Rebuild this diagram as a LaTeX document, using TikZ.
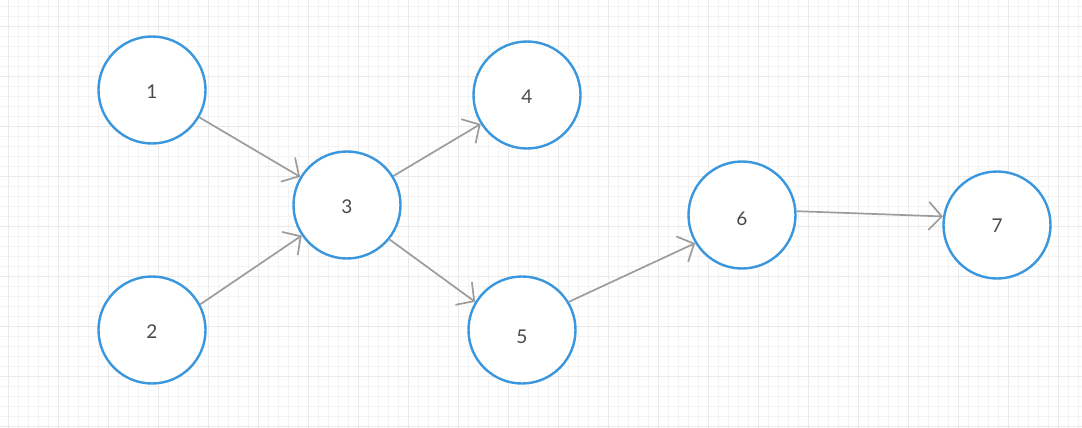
\documentclass[tikz,border=0pt]{standalone}
\usepackage{fontspec}
\setmainfont{Lato}
\usetikzlibrary{arrows.meta}
\definecolor{nodeblue}{HTML}{3A97DD}
\definecolor{edgegray}{HTML}{9C9C9C}
\definecolor{textgray}{HTML}{4A4A4A}
\definecolor{gridminor}{HTML}{F3F3F3}
\definecolor{gridmajor}{HTML}{EAEAEA}
\newcommand{\lbl}[2]{\raisebox{-#1pt}[\height][\depth]{#2}}
\begin{document}
\begin{tikzpicture}[x=1pt,y=-1pt,
  vtx/.style={circle,draw=nodeblue,line width=2.4pt,fill=white,minimum size=107pt,inner sep=0pt,
    text=textgray,font=\fontsize{19}{22}\selectfont},
  edge/.style={draw=edgegray,line width=1.7pt,-{Straight Barb[length=13pt,width=28pt,line width=1.7pt]}}]
\fill[white] (0,0) rectangle (1082,428);
\useasboundingbox (0,0) rectangle (1082,428);
\foreach \x in {8,18,...,1078} \draw[gridminor,line width=0.8pt] (\x,0) -- (\x,428);
\foreach \y in {6,16,...,426} \draw[gridminor,line width=0.8pt] (0,\y) -- (1082,\y);
\foreach \x in {8,58,...,1058} \draw[gridmajor,line width=0.8pt] (\x,0) -- (\x,428);
\foreach \y in {26,76,...,426} \draw[gridmajor,line width=0.8pt] (0,\y) -- (1082,\y);
\node[vtx] (n1) at (152,90) {\lbl{2}{1}};
\node[vtx] (n2) at (152,330) {\lbl{2}{2}};
\node[vtx] (n3) at (347,205) {\lbl{2}{3}};
\node[vtx] (n4) at (527,95) {\lbl{2}{4}};
\node[vtx] (n5) at (522,330) {\lbl{7}{5}};
\node[vtx] (n6) at (742,215) {\lbl{4}{6}};
\node[vtx] (n7) at (997,225) {\lbl{1}{7}};
\draw[edge] (n1.-30) -- (n3.149);
\draw[edge] (n2.28) -- (n3.214);
\draw[edge] (n3.32) -- (n4.212);
\draw[edge] (n3.-39) -- (n5.149);
\draw[edge] (n5.31) -- (n6.211);
\draw[edge] (n6.4) -- (n7.171);
\end{tikzpicture}
\end{document}
